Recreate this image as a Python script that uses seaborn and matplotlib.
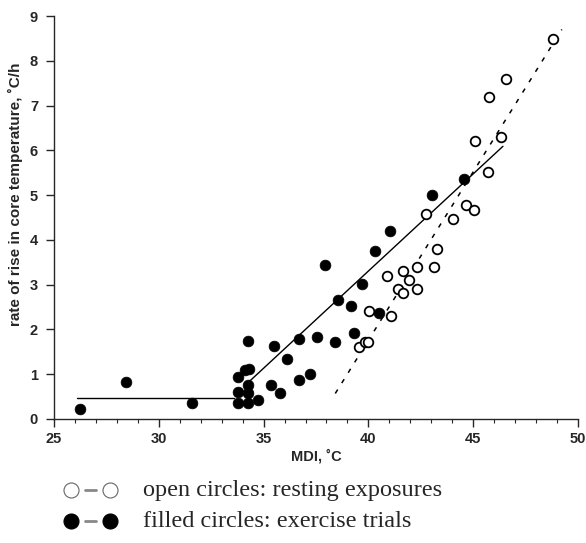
import numpy as np
import pandas as pd
import matplotlib
matplotlib.use("Agg")
import matplotlib.pyplot as plt
from matplotlib.lines import Line2D
import seaborn as sns

# Exercise trials (filled circles)
exercise_mdi = [26.25, 28.44, 31.56, 33.78, 33.78, 33.78, 34.12, 34.32, 34.27, 34.27,
                34.27, 34.27, 34.71, 35.34, 35.51, 35.78, 36.14, 36.67, 36.71, 37.22,
                37.54, 37.92, 38.42, 38.56, 39.17, 39.29, 39.70, 40.31, 40.50, 41.05,
                43.03, 44.56]
exercise_rate = [0.22, 0.82, 0.35, 0.94, 0.60, 0.35, 1.09, 1.12, 1.75, 0.76,
                 0.59, 0.35, 0.42, 0.77, 1.64, 0.57, 1.35, 0.87, 1.78, 1.00,
                 1.82, 3.45, 1.73, 2.66, 2.53, 1.93, 3.01, 3.75, 2.36, 4.20,
                 5.01, 5.36]

# Resting exposures (open circles)
resting_mdi = [39.56, 39.84, 39.98, 40.04, 40.88, 41.09, 41.41, 41.66, 41.66, 41.95,
               42.32, 42.34, 42.77, 43.14, 43.26, 44.03, 44.64, 45.06, 45.08, 45.72,
               45.74, 46.35, 46.58, 48.79]
resting_rate = [1.61, 1.71, 1.72, 2.41, 3.19, 2.31, 2.91, 2.81, 3.30, 3.10,
                2.91, 3.40, 4.58, 3.39, 3.79, 4.47, 4.78, 4.67, 6.21, 5.51,
                7.19, 6.30, 7.60, 8.48]

# Fitted relations
exercise_flat_x = [26.1, 33.6]
exercise_flat_y = [0.47, 0.47]
exercise_slope_x = [34.3, 46.42]
exercise_slope_y = [0.83, 6.09]
resting_fit_x = [38.42, 49.23]
resting_fit_y = [0.57, 8.70]

x_ticks = [25, 30, 35, 40, 45, 50]
y_ticks = [0, 1, 2, 3, 4, 5, 6, 7, 8, 9]

key_labels = ["open circles: resting exposures", "filled circles: exercise trials"]

sns.set_style("ticks")
plt.rcParams["font.family"] = ["Liberation Sans", "DejaVu Sans"]

fig = plt.figure(figsize=(5.86, 5.43), dpi=100)
ax = fig.add_axes([0.0922, 0.2284, 0.8941, 0.7421])

ex = pd.DataFrame({"mdi": exercise_mdi, "rate": exercise_rate})
rs = pd.DataFrame({"mdi": resting_mdi, "rate": resting_rate})

sns.lineplot(x=exercise_flat_x, y=exercise_flat_y, ax=ax, color="black", lw=1.0,
             estimator=None, sort=False)
sns.lineplot(x=exercise_slope_x, y=exercise_slope_y, ax=ax, color="black", lw=1.0,
             estimator=None, sort=False)
sns.lineplot(x=resting_fit_x, y=resting_fit_y, ax=ax, color="black", lw=1.1,
             estimator=None, sort=False)
ax.lines[-1].set_dashes([3, 5])

sns.scatterplot(data=ex, x="mdi", y="rate", ax=ax, s=60, color="black",
                edgecolor="black", linewidth=0.5, zorder=3)
sns.scatterplot(data=rs, x="mdi", y="rate", ax=ax, s=48, facecolor="white",
                edgecolor="black", linewidth=1.3, zorder=3)

ax.set_xlim(25, 50)
ax.set_ylim(0, 9)
ax.set_xticks(x_ticks)
ax.set_yticks(y_ticks)
ax.set_xticks(np.arange(25, 51, 1), minor=True)
ax.tick_params(axis="both", which="major", direction="out", length=5.5, width=1,
               labelsize=10.5)
ax.tick_params(axis="x", which="major", pad=4)
ax.tick_params(axis="y", which="major", pad=6)
ax.tick_params(axis="x", which="minor", direction="out", length=3, width=0.8)
for lab in ax.get_xticklabels() + ax.get_yticklabels():
    lab.set_fontweight("bold")
ax.set_xlabel("MDI, ˚C", fontsize=10.5, fontweight="bold", labelpad=2)
ax.set_ylabel("rate of rise in core temperature, ˚C/h", fontsize=11,
              fontweight="bold")
ax.yaxis.set_label_coords(-0.060, 0.558)
sns.despine(ax=ax)
for sp in ax.spines.values():
    sp.set_linewidth(1.0)

# Symbol key beneath the chart
key_rows = [0.0976, 0.0405]
for yk, filled, text in zip(key_rows, [False, True], key_labels):
    fig.add_artist(Line2D([0.1455, 0.1635], [yk, yk], transform=fig.transFigure,
                          color="#888888", lw=2))
    for xk in (0.1212, 0.1885):
        fig.add_artist(Line2D([xk], [yk], transform=fig.transFigure, marker="o",
                              markersize=10.8,
                              markerfacecolor="black" if filled else "white",
                              markeredgecolor="black" if filled else "#666666",
                              markeredgewidth=0.8, linestyle="none"))
    fig.text(0.244, yk, text, fontsize=17.5, family="Liberation Serif",
             va="center")

fig.savefig("out.png", dpi=100)
